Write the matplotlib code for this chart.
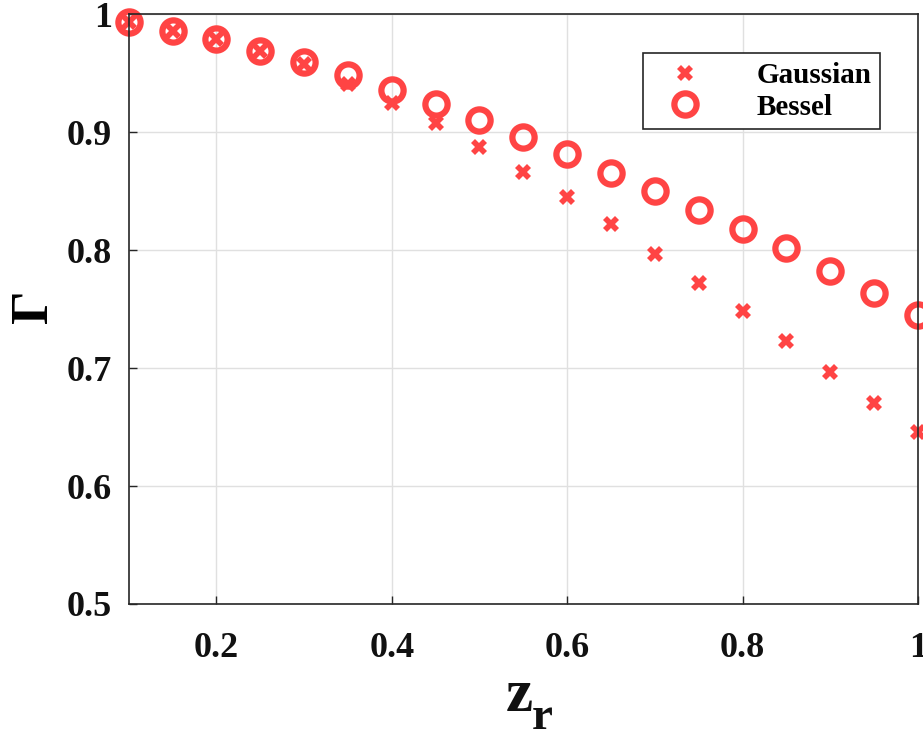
import matplotlib
matplotlib.use("Agg")
import matplotlib.pyplot as plt
import numpy as np

zr = [0.1, 0.15, 0.2, 0.25, 0.3, 0.35, 0.4, 0.45, 0.5, 0.55,
      0.6, 0.65, 0.7, 0.75, 0.8, 0.85, 0.9, 0.95, 1.0]
gaussian = [0.993, 0.986, 0.979, 0.969, 0.958, 0.941, 0.925, 0.908, 0.887, 0.866,
            0.845, 0.822, 0.797, 0.772, 0.748, 0.723, 0.697, 0.670, 0.646]
bessel = [0.993, 0.986, 0.979, 0.969, 0.959, 0.948, 0.936, 0.924, 0.910, 0.896,
          0.881, 0.865, 0.850, 0.834, 0.818, 0.802, 0.782, 0.764, 0.745]

plt.rcParams['font.family'] = ['Liberation Serif', 'DejaVu Serif']
plt.rcParams['font.weight'] = 'bold'
plt.rcParams['mathtext.fontset'] = 'custom'
plt.rcParams['mathtext.rm'] = 'Liberation Serif:bold'
plt.rcParams['mathtext.it'] = 'Liberation Serif:bold'
plt.rcParams['mathtext.bf'] = 'Liberation Serif:bold'

red = '#ff4444'
fig = plt.figure(figsize=(9.23, 7.42), dpi=100)
ax = fig.add_axes([0.1395, 0.186, 0.855, 0.795])

ax.plot(zr, gaussian, linestyle='none', marker='X', markersize=12,
        color=red, markeredgewidth=0, label='Gaussian', clip_on=False)
ax.plot(zr, bessel, linestyle='none', marker='o', markersize=16,
        markerfacecolor='none', markeredgecolor=red, markeredgewidth=4.5,
        label='Bessel', clip_on=False)

ax.set_xlim(0.1, 1.0)
ax.set_ylim(0.5, 1.0)
ax.set_xticks([0.2, 0.4, 0.6, 0.8, 1.0])
ax.set_xticklabels(['0.2', '0.4', '0.6', '0.8', '1'])
ax.set_yticks([0.5, 0.6, 0.7, 0.8, 0.9, 1.0])
ax.set_yticklabels(['0.5', '0.6', '0.7', '0.8', '0.9', '1'])
ax.tick_params(direction='in', length=6, width=1, labelsize=26, colors='#262626')
ax.tick_params(axis='x', pad=20)
ax.tick_params(axis='y', pad=12)
for lbl in ax.get_xticklabels() + ax.get_yticklabels():
    lbl.set_color('#111111')
ax.grid(True, color='#e0e0e0', linewidth=1)
ax.set_axisbelow(True)
for s in ax.spines.values():
    s.set_color('#262626')
    s.set_linewidth(1.2)

# x label: z with a low subscript r
fig.text(0.563, 0.042, 'z', fontsize=44, ha='center', va='baseline', color='#111111')
fig.text(0.576, 0.017, 'r', fontsize=34, ha='left', va='baseline', color='#111111')
ax.set_ylabel(r'$\Gamma$', fontsize=38, labelpad=6)

leg = ax.legend(loc='upper right', bbox_to_anchor=(0.971, 0.958), fontsize=21,
                fancybox=False, edgecolor='#262626', framealpha=1,
                handletextpad=1.3, borderpad=0.3, labelspacing=0.15, handlelength=2.3)
leg.get_frame().set_linewidth(1.2)

fig.savefig('out.png', dpi=100)
